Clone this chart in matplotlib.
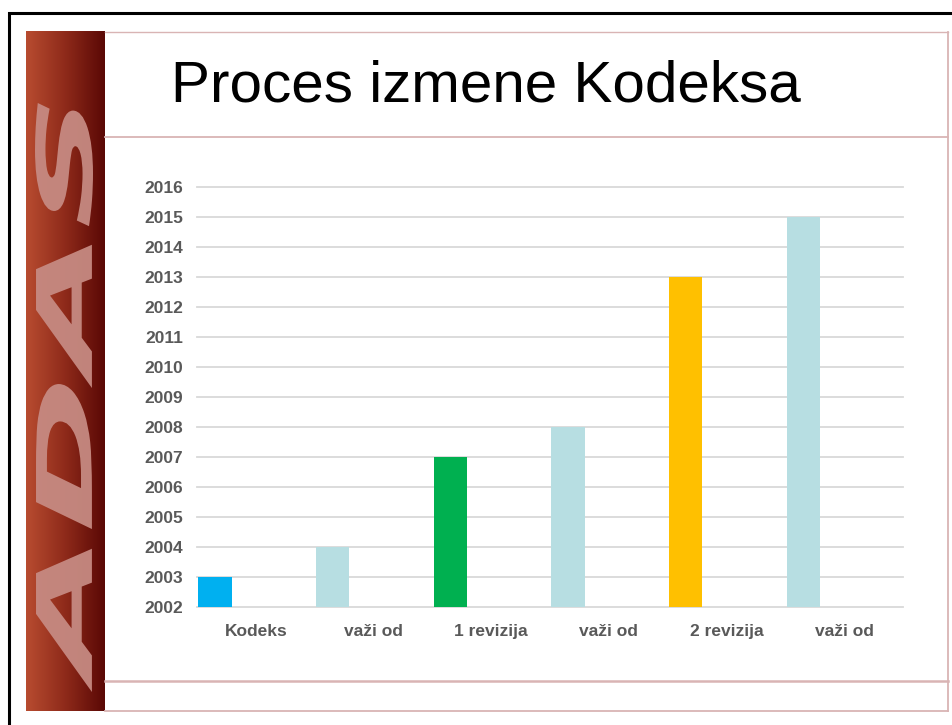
import numpy as np
import matplotlib
matplotlib.use('Agg')
import matplotlib.pyplot as plt
from matplotlib.textpath import TextPath
from matplotlib.font_manager import FontProperties
from matplotlib.patches import PathPatch, Rectangle
from matplotlib.transforms import Affine2D

# ---------- data ----------
categories = ['Kodeks', 'važi od', '1 revizija', 'važi od', '2 revizija', 'važi od']
years = [2003, 2004, 2007, 2008, 2013, 2015]
bar_colors = ['#00B0F0', '#B7DEE2', '#00B050', '#B7DEE2', '#FFC000', '#B7DEE2']
year_ticks = list(range(2002, 2017))
title = 'Proces izmene Kodeksa'
side_text = 'ADAS'

W, H = 952, 725
fig = plt.figure(figsize=(W / 100, H / 100), dpi=100)
fig.patch.set_facecolor('white')

# ---------- slide decoration (pixel coords, y up) ----------
bg = fig.add_axes([0, 0, 1, 1], zorder=0)
bg.set_xlim(0, W)
bg.set_ylim(0, H)
bg.axis('off')

# outer black frame (right/bottom fall outside the image)
bg.add_patch(Rectangle((8.5, -20), W + 50, H - 12.5 + 20, fill=False,
                       edgecolor='black', linewidth=2.2))

# red gradient band on the left
grad = np.linspace(0, 1, 256).reshape(1, -1)
cmap = matplotlib.colors.LinearSegmentedColormap.from_list(
    'band', ['#B84C30', '#8E2A1A', '#5A0805'])
bg.imshow(grad, cmap=cmap, aspect='auto', extent=(26, 105, H - 711, H - 31), zorder=1)

# rotated, stretched "ADAS" on the band
tp = TextPath((0, 0), side_text, size=100,
              prop=FontProperties(family='DejaVu Sans', weight='bold', style='oblique'))
ext = tp.get_extents()
L, Hh = 589, 58
tr = (Affine2D().translate(-ext.x0, -ext.y0)
      .scale(L / ext.width, Hh / ext.height)
      .rotate_deg(90).translate(93, H - 692))
bg.add_patch(PathPatch(tr.transform_path(tp), facecolor='#C68A82',
                       edgecolor='none', alpha=0.95, zorder=2))

# thin pink frame lines
pink = '#D9B4B4'
bg.plot([105, 948], [H - 31.5, H - 31.5], color=pink, lw=1.0, zorder=2)
bg.plot([105, 948], [H - 137, H - 137], color=pink, lw=1.3, zorder=2)
bg.plot([105, 948], [H - 681, H - 681], color=pink, lw=1.8, zorder=2)
bg.plot([105, 948], [H - 711, H - 711], color=pink, lw=1.3, zorder=2)
bg.plot([948, 948], [H - 31.5, H - 711], color=pink, lw=1.3, zorder=2)

# title
fig.text(171 / W, (H - 101.7) / H, title, fontsize=42, family='Liberation Sans',
         ha='left', va='baseline', color='black')

# ---------- bar chart ----------
ax = fig.add_axes([197 / W, (H - 607) / H, 706 / W, 420 / H], zorder=3)
ax.patch.set_alpha(0)
x = np.arange(len(categories))
base = year_ticks[0]
ax.bar(x - 0.347, [y - base for y in years], bottom=base, width=0.285,
       color=bar_colors, zorder=3)

ax.set_xlim(-0.5, len(categories) - 0.5)
ax.set_ylim(year_ticks[0], year_ticks[-1])
ax.set_yticks(year_ticks)
ax.set_yticklabels([str(t) for t in year_ticks])
ax.set_xticks(x)
ax.set_xticklabels(categories)
for s in ax.spines.values():
    s.set_visible(False)
ax.tick_params(axis='y', length=0, pad=10, labelsize=12.5, labelcolor='#595959')
ax.tick_params(axis='x', length=0, pad=12, labelsize=12.5, labelcolor='#595959')
for lab in ax.get_xticklabels() + ax.get_yticklabels():
    lab.set_fontweight('bold')
    lab.set_family('Liberation Sans')
ax.yaxis.grid(True, color='#D9D9D9', linewidth=1.3, zorder=1)
ax.set_axisbelow(True)
for gl in ax.get_ygridlines():
    gl.set_clip_on(False)

fig.savefig('out.png', dpi=100)
